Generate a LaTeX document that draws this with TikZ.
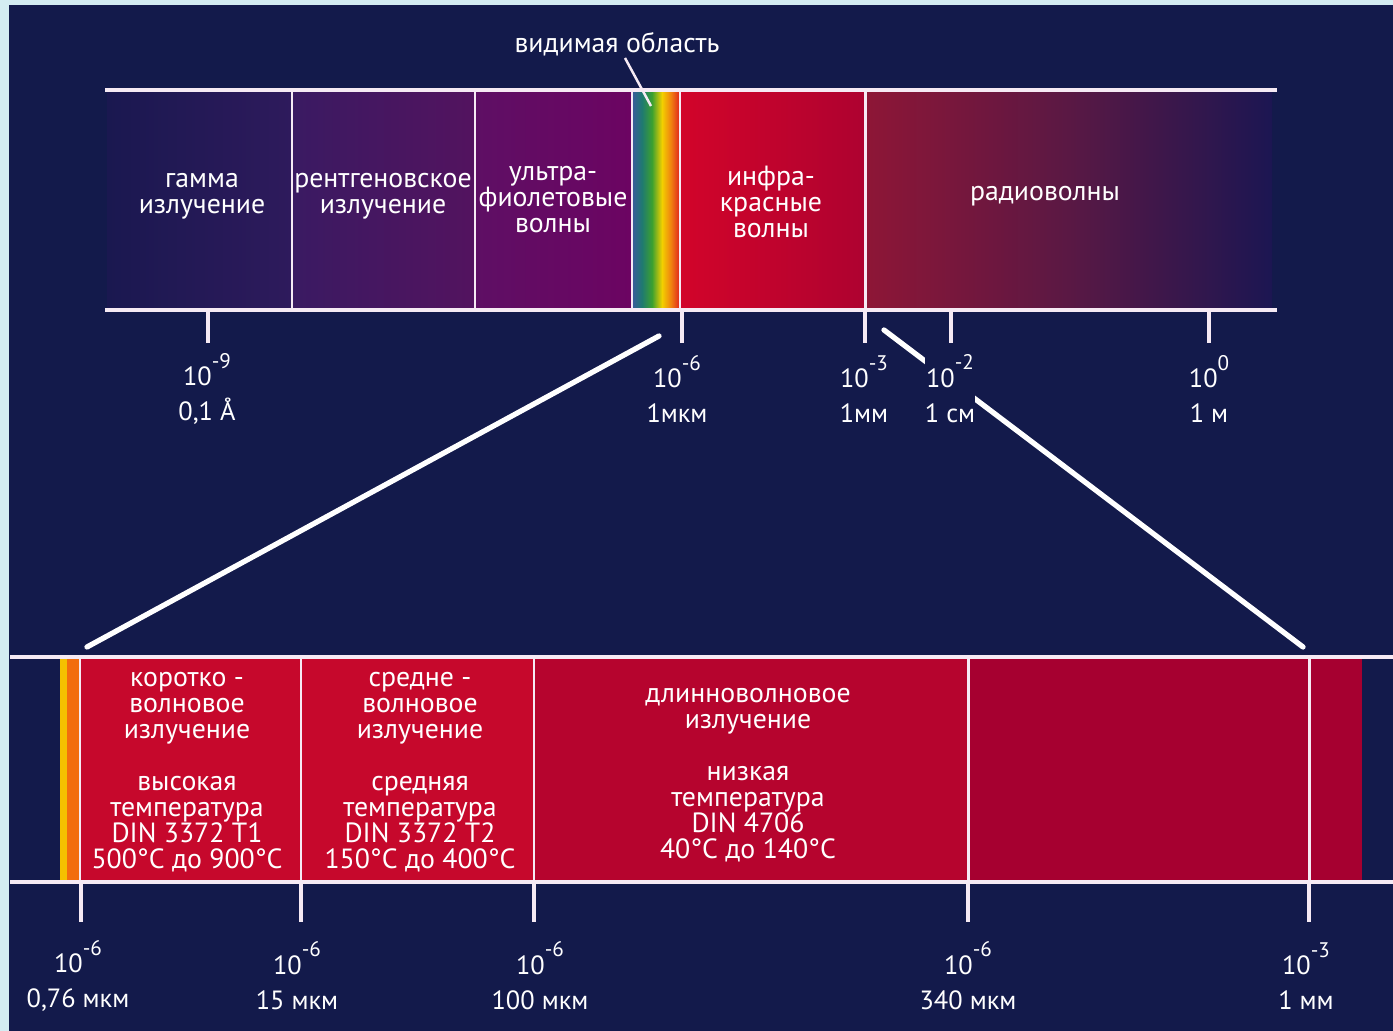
\documentclass[tikz,border=0pt]{standalone}
\usepackage{fontspec}
\setmainfont{PT Sans}
\usetikzlibrary{positioning}
\definecolor{bgnavy}{HTML}{131A4B}
\definecolor{rimcyan}{HTML}{D4ECF2}
\definecolor{linewhite}{HTML}{F6EAF4}
\definecolor{gammaA}{HTML}{1A1850}
\definecolor{gammaB}{HTML}{2E1A5C}
\definecolor{xrayA}{HTML}{3A1A62}
\definecolor{xrayB}{HTML}{53135F}
\definecolor{uvA}{HTML}{5E0F64}
\definecolor{uvB}{HTML}{6C0462}
\definecolor{irA}{HTML}{D2042A}
\definecolor{irB}{HTML}{AE0230}
\definecolor{radioA}{HTML}{8E1636}
\definecolor{radioM}{HTML}{5A1844}
\definecolor{radioB}{HTML}{1C1652}
\definecolor{specblue}{HTML}{3A5A9C}
\definecolor{specteal}{HTML}{1F7A70}
\definecolor{specgreen}{HTML}{3CA030}
\definecolor{specyellow}{HTML}{F2D000}
\definecolor{specorange}{HTML}{F08010}
\definecolor{specred}{HTML}{E0201E}
\definecolor{shortred}{HTML}{C6082C}
\definecolor{longred}{HTML}{B6042E}
\definecolor{farred}{HTML}{A60030}
\newcommand\tenexp[1]{10\raisebox{5pt}{\fontsize{6}{6}\selectfont#1}}
\tikzset{rim/.style={draw=linewhite,line width=1.2pt}}
\tikzset{divline/.style={draw=linewhite,line width=0.85pt}}
\tikzset{tickline/.style={draw=linewhite,line width=0.9pt}}
\tikzset{zoomline/.style={draw=white,line width=1.5pt,line cap=round}}
\tikzset{bandtext/.style={text=white,align=center,inner sep=0pt,font=\fontsize{7.9}{7.4}\selectfont}}
\tikzset{scaletext/.style={text=white,align=center,inner sep=0pt,fill=bgnavy,font=\fontsize{7.5}{10}\selectfont}}

\begin{document}
\begin{tikzpicture}[x=0.01cm,y=-0.01cm]
\useasboundingbox (0,0) rectangle (1393,1031);
\fill[bgnavy] (0,0) rectangle (1393,1031);
\fill[rimcyan] (0,0) rectangle (1393,5);
\fill[rimcyan] (0,0) rectangle (9,1031);

% upper spectrum
\shade[left color=gammaA,right color=gammaB] (107,92) rectangle (292,308);
\shade[left color=xrayA,right color=xrayB] (292,92) rectangle (475,308);
\shade[left color=uvA,right color=uvB] (475,92) rectangle (632,308);
\foreach \xa/\xb/\ca/\cb in {632/642/specblue/specteal,642/652/specteal/specgreen,652/662/specgreen/specyellow,662/671/specyellow/specorange,671/680/specorange/specred}
  \shade[left color=\ca,right color=\cb] (\xa,92) rectangle (\xb,308);
\shade[left color=irA,right color=irB] (680,92) rectangle (865,308);
\shade[left color=radioA,right color=radioB,middle color=radioM] (865,92) rectangle (1272,308);
\foreach \x in {292,475,632,680,865}
  \draw[divline] (\x,90) -- (\x,310);
\draw[rim] (105,90) -- (1277,90);
\draw[rim] (105,310) -- (1277,310);

\node[bandtext] (gamma) at (202,196) {гамма\\излучение};
\node[bandtext] (xray) at (383,196) {рентгеновское\\излучение};
\node[bandtext] (uv) at (553,200) {ультра-\\фиолетовые\\волны};
\node[bandtext] (ir) at (771,202) {инфра-\\красные\\волны};
\node[bandtext] (radio) at (1045,196) {радиоволны};

\node[bandtext] (vistext) at (617,44) {видимая область};
\coordinate (visstart) at (625,58);
\coordinate (visend) at (651,106);
\draw[draw=linewhite,line width=0.7pt] (visstart) -- (visend);

% ticks of the upper scale
\foreach \x/\name in {208/nine,682/six,865/three,951/two,1209/zero}{
  \coordinate (\name top) at (\x,310);
  \coordinate (\name bot) at (\x,343);
  \draw[tickline] (\name top) -- (\name bot);
}

% zoom lines
\coordinate (zoomAa) at (659,336);
\coordinate (zoomAb) at (87,647);
\coordinate (zoomBa) at (884,330);
\coordinate (zoomBb) at (1303,647);
\draw[zoomline] (zoomAa) -- (zoomAb);
\draw[zoomline] (zoomBa) -- (zoomBb);

\node[scaletext] (lnine) at (207,389) {\tenexp{-9}\\0,1 Å};
\node[scaletext] (lsix) at (677,389) {\tenexp{-6}\\1мкм};
\node[scaletext] (lthree) at (864,389) {\tenexp{-3}\\1мм};
\node[scaletext] (ltwo) at (950,389) {\tenexp{-2}\\1 см};
\node[scaletext] (lzero) at (1209,389) {\tenexp{0}\\1 м};

% lower (infrared) band
\fill[specyellow!80!orange] (60,659) rectangle (67,880);
\fill[specorange!85!red] (67,659) rectangle (80,880);
\fill[shortred] (80,659) rectangle (534,880);
\fill[longred] (534,659) rectangle (968,880);
\fill[farred] (968,659) rectangle (1362,880);
\foreach \x in {80,301,534,968,1309}
  \draw[divline] (\x,657) -- (\x,882);
\draw[rim] (10,657) -- (1393,657);
\draw[rim] (10,882) -- (1393,882);

\node[bandtext] (shortwave) at (187,772) {коротко -\\волновое\\излучение\\[7.4pt]высокая\\температура\\DIN 3372 T1\\500°C до 900°C};
\node[bandtext] (midwave) at (420,772) {средне -\\волновое\\излучение\\[7.4pt]средняя\\температура\\DIN 3372 T2\\150°C до 400°C};
\node[bandtext] (longwave) at (748,775) {длинноволновое\\излучение\\[7.4pt]низкая\\температура\\DIN 4706\\40°C до 140°C};

% ticks of the lower scale
\foreach \x/\name in {81/pa,301/pb,534/pc,968/pd,1309/pe}{
  \coordinate (\name top) at (\x,882);
  \coordinate (\name bot) at (\x,922);
  \draw[tickline] (\name top) -- (\name bot);
}
\node[scaletext] (lpa) at (78,976) {\tenexp{-6}\\0,76 мкм};
\node[scaletext] (lpb) at (297,976) {\tenexp{-6}\\15 мкм};
\node[scaletext] (lpc) at (540,976) {\tenexp{-6}\\100 мкм};
\node[scaletext] (lpd) at (968,976) {\tenexp{-6}\\340 мкм};
\node[scaletext] (lpe) at (1306,976) {\tenexp{-3}\\1 мм};
\end{tikzpicture}
\end{document}
